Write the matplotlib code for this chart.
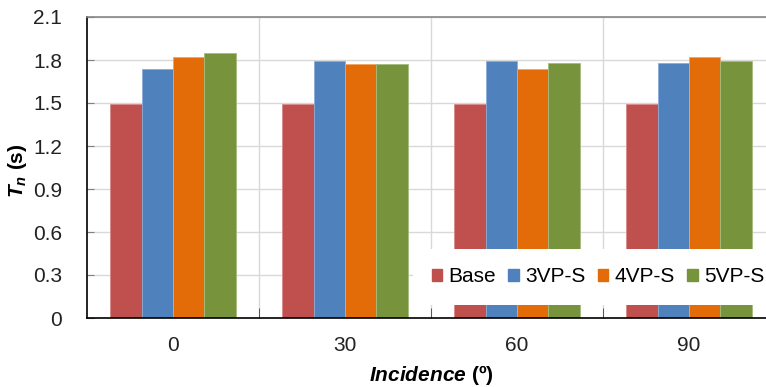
import numpy as np
import matplotlib.pyplot as plt
from matplotlib.patches import Patch
from matplotlib.ticker import FixedLocator

plt.rcParams.update({
    'font.family': ['Liberation Sans', 'DejaVu Sans'],
    'font.size': 15,
    'mathtext.fontset': 'custom',
    'mathtext.it': 'Liberation Sans:italic:bold',
    'mathtext.rm': 'Liberation Sans:bold',
    'mathtext.bf': 'Liberation Sans:bold',
})

# natural period for each incidence angle
incidence = ['0', '30', '60', '90']
series = ['Base', '3VP-S', '4VP-S', '5VP-S']
base = [1.49, 1.49, 1.49, 1.49]
vp3 = [1.74, 1.79, 1.79, 1.78]
vp4 = [1.82, 1.77, 1.74, 1.82]
vp5 = [1.85, 1.77, 1.78, 1.79]
colors = ['#C0504D', '#4F81BD', '#E36C09', '#77933C']
edges = ['#D88A88', '#8AABD6', '#F0A264', '#A4BC7C']

fig = plt.figure(figsize=(7.66, 3.87), dpi=100)
ax = fig.add_axes([87 / 766, 1 - 318 / 387, (775 - 87) / 766, (318 - 17) / 387])

x = np.arange(len(incidence))
w = 0.182
for i, vals in enumerate([base, vp3, vp4, vp5]):
    ax.bar(x + (i - 1.5) * w, vals, w, color=colors[i], edgecolor=edges[i],
           linewidth=0.6, zorder=2)

ax.set_xlim(-0.5, 3.5)
ax.set_ylim(0, 2.1)
ax.set_yticks(np.arange(0, 2.11, 0.3))
ax.set_yticklabels(['0', '0.3', '0.6', '0.9', '1.2', '1.5', '1.8', '2.1'])
ax.set_xticks(x)
ax.set_xticklabels(incidence)
ax.xaxis.set_minor_locator(FixedLocator([0.5, 1.5, 2.5]))

# gridlines behind bars
ax.grid(axis='y', which='major', color='#D9D9D9', linewidth=1, zorder=0)
ax.grid(axis='x', which='minor', color='#D9D9D9', linewidth=1, zorder=0)
ax.set_axisbelow(True)

ax.tick_params(axis='x', which='major', length=0, pad=13, labelsize=15, colors='#222222')
ax.tick_params(axis='x', which='minor', direction='in', length=7, color='#404040')
ax.tick_params(axis='y', direction='in', length=5, color='#808080', pad=18,
               labelsize=15, labelcolor='#222222')

for s in ['left', 'bottom']:
    ax.spines[s].set_color('black')
    ax.spines[s].set_linewidth(1.2)
ax.spines['top'].set_color('#868686')
ax.spines['top'].set_linewidth(1.2)
ax.spines['right'].set_visible(False)

ax.set_xlabel(r'$Incidence$ (º)', fontweight='bold', fontsize=15, labelpad=6)
ax.set_ylabel(r'$T_n$ (s)', fontweight='bold', fontsize=15, labelpad=10)
ax.yaxis.set_label_coords(-0.085, 0.49)

handles = [Patch(facecolor=c, edgecolor=c) for c in colors]
leg = ax.legend(handles, series, ncol=4, loc='center',
                bbox_to_anchor=(598 / 766, 1 - 277 / 387),
                bbox_transform=fig.transFigure,
                frameon=True, fancybox=False, framealpha=1, edgecolor='white',
                handlelength=0.5, handleheight=0.5, handletextpad=0.3,
                columnspacing=0.6, borderpad=0.9, fontsize=15)
leg.get_frame().set_linewidth(0)

fig.savefig('out.png', dpi=100)
